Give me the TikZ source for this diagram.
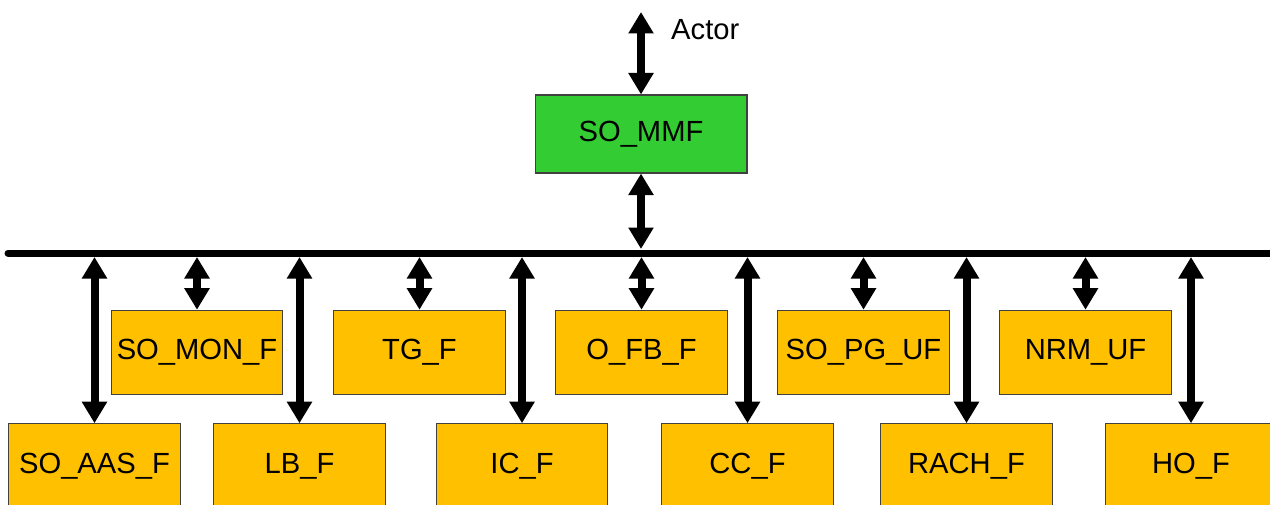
\documentclass[tikz,border=0pt]{standalone}
\usepackage{fontspec}
\setmainfont{Liberation Sans}
\usetikzlibrary{arrows.meta}
\definecolor{mmfgreen}{HTML}{33CC33}
\definecolor{funorange}{HTML}{FFC000}

\begin{document}
\begin{tikzpicture}[x=0.02cm,y=-0.02cm,
	font=\fontsize{16.6}{19}\selectfont,
	mmf/.style={shape=rectangle,draw=black!75,line width=0.6pt,fill=mmfgreen,minimum width=4.24cm,minimum height=1.56cm,inner sep=0pt},
	fun/.style={shape=rectangle,draw=black!75,line width=0.6pt,fill=funorange,minimum width=3.43cm,minimum height=1.69cm,inner sep=0pt},
	bus/.style={line width=0.14cm,line cap=round},
	link/.style={line width=0.16cm,{Triangle[width=0.48cm,length=0.43cm]}-{Triangle[width=0.48cm,length=0.43cm]}}]
	
	\useasboundingbox (0,0) rectangle (1270,504);
	\clip (0,0) rectangle (1270,504);
	
	\node[mmf] (mmf) at (641, 134)     {SO\_MMF};
	\node[anchor=west] (actor) at (665, 30)     {Actor};
	\coordinate (top) at (641, 12);
	
	\coordinate (busl) at (8, 253);
	\coordinate (busr) at (1275, 253);
	\coordinate (bust) at (0, 249);
	\coordinate (busb) at (0, 257);
	
	\node[fun] (mon) at (197, 352.5)     {SO\_MON\_F};
	\node[fun] (tg) at (419.5, 352.5)     {TG\_F};
	\node[fun] (ofb) at (641.5, 352.5)     {O\_FB\_F};
	\node[fun] (pg) at (863.5, 352.5)     {SO\_PG\_UF};
	\node[fun] (nrm) at (1085.5, 352.5)     {NRM\_UF};
	
	\node[fun] (aas) at (94.5, 466)     {SO\_AAS\_F};
	\node[fun] (lb) at (299.5, 466)     {LB\_F};
	\node[fun] (ic) at (522, 466)     {IC\_F};
	\node[fun] (cc) at (747.5, 466)     {CC\_F};
	\node[fun] (rach) at (966.5, 466)     {RACH\_F};
	\node[fun] (ho) at (1191, 466)     {HO\_F};
	
	\draw[bus] (busl) -- (busr);
	
	\draw[link] (top) -- (mmf.north);
	\draw[link] (mmf.south) -- (mmf.south |- bust);
	
	\draw[link] (mon.north |- busb) -- (mon.north);
	\draw[link] (tg.north |- busb) -- (tg.north);
	\draw[link] (ofb.north |- busb) -- (ofb.north);
	\draw[link] (pg.north |- busb) -- (pg.north);
	\draw[link] (nrm.north |- busb) -- (nrm.north);
	
	\draw[link] (aas.north |- busb) -- (aas.north);
	\draw[link] (lb.north |- busb) -- (lb.north);
	\draw[link] (ic.north |- busb) -- (ic.north);
	\draw[link] (cc.north |- busb) -- (cc.north);
	\draw[link] (rach.north |- busb) -- (rach.north);
	\draw[link] (ho.north |- busb) -- (ho.north);
\end{tikzpicture}
\end{document}
